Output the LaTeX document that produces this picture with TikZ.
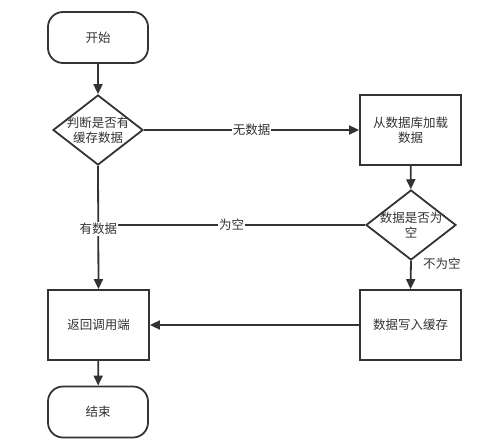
\documentclass[tikz,border=0pt]{standalone}
\usepackage{fontspec}
\setmainfont{Noto Sans CJK SC}
\usetikzlibrary{shapes.geometric,arrows.meta}
\definecolor{ink}{HTML}{333333}
\begin{document}
\begin{tikzpicture}[x=1pt,y=-1pt,
  every node/.style={font=\fontsize{12.5}{15}\selectfont, text=ink},
  term/.style={draw=ink, line width=1.8pt, rounded corners=15pt, minimum width=100pt, minimum height=51pt, inner sep=0pt},
  proc/.style={draw=ink, line width=1.8pt, minimum width=101pt, minimum height=70pt, inner sep=0pt, align=center},
  dia/.style={draw=ink, line width=1.8pt, diamond, minimum width=90pt, minimum height=70pt, inner sep=0pt},
  conn/.style={draw=ink, line width=1.8pt},
  arr/.style={conn, -{Triangle[length=10pt,width=9pt]}},
  lab/.style={fill=white, inner sep=1pt}]
\useasboundingbox (0,0) rectangle (500,444);
\node[term] (start) at (98,37.5) {开始};
\node[dia] (d1) at (98,130) {};
\node[align=center] (d1t) at (98,130) {判断是否有\\缓存数据};
\node[proc] (load) at (410.5,130) {从数据库加载\\数据};
\node[dia] (d2) at (411,225) {};
\node[align=center] (d2t) at (411,225) {数据是否为\\空};
\node[proc] (ret) at (98.5,325) {返回调用端};
\node[proc] (write) at (410.5,325) {数据写入缓存};
\node[term] (end) at (98,412) {结束};
\draw[arr] (start) -- (d1);
\draw[arr] (d1.east) -- node[lab] (l1) {无数据} (load.west);
\draw[arr] (load) -- (d2);
\draw[conn] (d2.west) -- node[lab] (l2) {为空} (d2.west -| d1.south);
\draw[arr] (d1.south) -- node[lab, pos=0.51] (l3) {有数据} (ret.north);
\draw[arr] (d2.south) -- node[right, pos=0.1, xshift=8pt] (l4) {不为空} (write.north);
\draw[arr] (write.west) -- (ret.east);
\draw[arr] (ret) -- (end);
\end{tikzpicture}
\end{document}
